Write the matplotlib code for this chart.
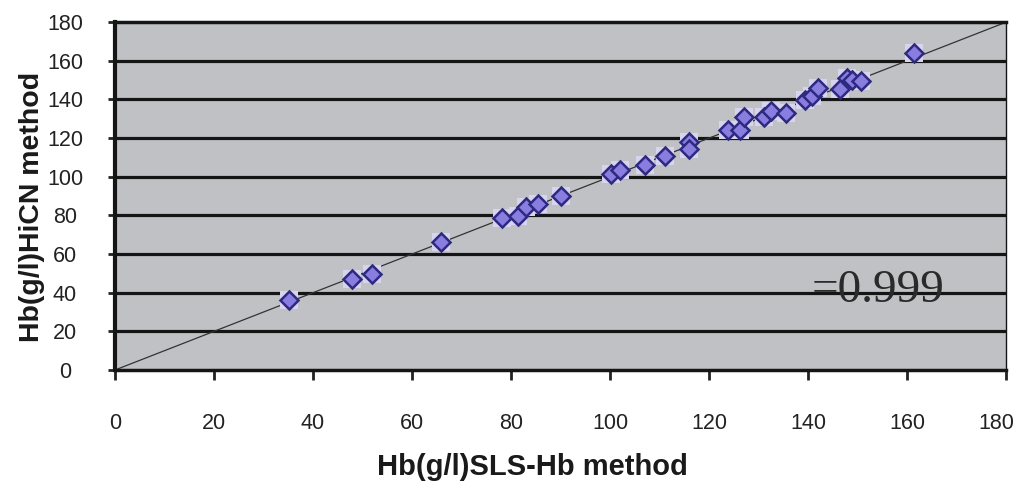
import matplotlib.pyplot as plt
from matplotlib.transforms import ScaledTranslation

# Hb (g/l) measured by the SLS-Hb method (x) and the HiCN method (y)
sls_hb = [35.1, 47.8, 51.8, 65.9, 78.2, 81.3, 82.9, 85.4, 90.1, 100.1,
          102.0, 107.1, 111.1, 116.0, 116.0, 123.8, 126.2, 127.1, 131.0, 132.4,
          135.4, 139.4, 140.8, 141.9, 146.4, 147.9, 148.8, 150.7, 161.3]
hicn = [36.2, 46.9, 49.5, 66.4, 78.8, 79.7, 84.5, 85.7, 90.0, 101.4,
        103.5, 106.1, 110.7, 117.8, 114.3, 124.2, 124.2, 131.0, 130.9, 134.0,
        133.2, 139.7, 141.5, 145.7, 145.5, 151.0, 150.0, 149.5, 163.8]

fit_slope = 1.0
fit_intercept = 0.0
r_text = "=0.999"

ticks = [0, 20, 40, 60, 80, 100, 120, 140, 160, 180]

plt.rcParams['font.family'] = ['Liberation Sans', 'DejaVu Sans']

fig = plt.figure(figsize=(10.2, 4.84), dpi=100)
ax = fig.add_axes([0.1127, 0.2355, 0.874, 0.719])
ax.set_facecolor('#bfc1c5')

for t in ticks[1:-1]:
    ax.axhline(t, color='#151515', lw=2.3, zorder=1)

ax.axline((0, fit_intercept), slope=fit_slope, color='#333333', lw=0.9, zorder=2)

ax.scatter(sls_hb, hicn, marker='s', s=160, color='#d8d4f0', lw=0, zorder=3)
ax.plot(sls_hb, hicn, 'D', ms=9.5, mfc='#8a7de0', mec='#2e2a80', mew=1.8, zorder=4)

ax.text(140.6, 40.9, r_text, family='Liberation Serif', fontsize=34,
        color='#2a2a2a', ha='left', va='center', zorder=5)

ax.set_xlim(0, 180)
ax.set_ylim(0, 180)
ax.set_xticks(ticks)
ax.set_yticks(ticks)

ax.spines['left'].set_linewidth(3)
ax.spines['bottom'].set_linewidth(2.5)
ax.spines['top'].set_linewidth(2.5)
ax.spines['right'].set_linewidth(1)
for s in ax.spines.values():
    s.set_color('#151515')

ax.tick_params(axis='x', direction='out', length=7, width=2, color='#222222',
               pad=24, labelsize=15.5, labelcolor='#222222')
ax.tick_params(axis='y', direction='out', length=5, width=2, color='#222222',
               pad=31, labelsize=15.5, labelcolor='#222222')
for lab in ax.get_yticklabels():
    lab.set_horizontalalignment('center')
last = ax.get_xticklabels()[-1]
last.set_transform(last.get_transform() + ScaledTranslation(-10 / 100, 0, fig.dpi_scale_trans))

fig.text(0.031, 0.572, "Hb(g/l)HiCN method", rotation=90, fontsize=20.5,
         fontweight='bold', color='#1a1a1a', ha='center', va='center')
fig.text(0.522, 0.035, "Hb(g/l)SLS-Hb method", fontsize=21,
         fontweight='bold', color='#1a1a1a', ha='center', va='center')

fig.savefig('out.png', dpi=100)
